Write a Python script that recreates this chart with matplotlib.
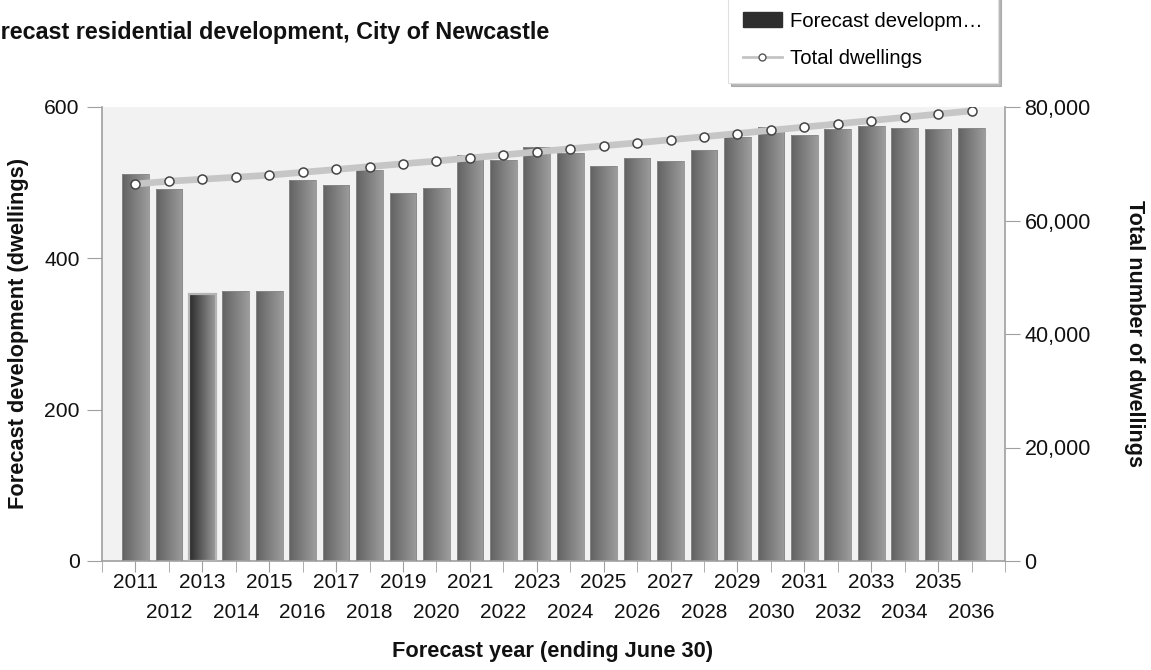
import matplotlib
matplotlib.use("Agg")
import matplotlib.pyplot as plt
import numpy as np
from matplotlib.patches import Patch
from matplotlib.lines import Line2D
from matplotlib.colors import LinearSegmentedColormap
from matplotlib.ticker import FuncFormatter

plt.rcParams['font.family'] = ['Liberation Sans', 'DejaVu Sans']

years = list(range(2011, 2037))
development = [512, 491, 353, 357, 357, 503, 497, 517, 486, 493, 537, 530, 547,
               539, 522, 532, 529, 543, 561, 573, 563, 571, 575, 572, 571, 572]
total_dwellings = [66430, 66920, 67270, 67630, 67990, 68490, 68990, 69500, 69990,
                   70480, 71020, 71550, 72100, 72640, 73160, 73690, 74220, 74760,
                   75320, 75900, 76460, 77030, 77610, 78180, 78750, 79320]
highlight_year = 2013

title = "Forecast residential development, City of Newcastle"
xlabel = "Forecast year (ending June 30)"
ylabel_left = "Forecast development (dwellings)"
ylabel_right = "Total number of dwellings"
legend_labels = ["Forecast developm\u2026", "Total dwellings"]

W, H = 1151, 670
fig = plt.figure(figsize=(W / 100, H / 100), dpi=100)
ax = fig.add_axes([102 / W, 1 - 561 / H, (1005 - 102) / W, (561 - 107) / H])
ax.set_facecolor('#f2f2f2')

x = np.arange(len(years))
bars = ax.bar(x, development, width=0.8, color='none', edgecolor='none', zorder=2)

grad = np.linspace(0, 1, 64).reshape(1, -1)
cmap_norm = LinearSegmentedColormap.from_list('g', ['#626262', '#9c9c9c'])
cmap_hi = LinearSegmentedColormap.from_list('h', ['#2a2a2a', '#9a9a9a'])
for yr, b in zip(years, bars):
    x0, w, h = b.get_x(), b.get_width(), b.get_height()
    hi = (yr == highlight_year)
    im = ax.imshow(grad, cmap=cmap_hi if hi else cmap_norm, aspect='auto',
                   extent=(x0, x0 + w, 0, h), zorder=2, interpolation='bilinear')
    im.set_clip_path(b)
    ec = '#b4b4b4' if hi else '#8a8a8a'
    lw = 1.6 if hi else 0.6
    ax.add_patch(plt.Rectangle((x0, 0), w, h, fill=False, edgecolor=ec, lw=lw, zorder=3))

ax.set_xlim(-1, len(years))
ax.set_ylim(0, 600)
ax.set_yticks([0, 200, 400, 600])

FS_TICK = 15
major = [i for i in x if i % 2 == 0]
minor = [-1] + [i for i in x if i % 2 == 1] + [len(years)]
ax.set_xticks(major)
ax.set_xticklabels([str(years[i]) for i in major])
ax.set_xticks(minor, minor=True)
ax.set_xticklabels([''] + [str(years[i]) for i in x if i % 2 == 1] + [''], minor=True)
ax.tick_params(axis='x', which='major', length=8, color='#a0a0a0', pad=1,
               labelsize=FS_TICK, labelcolor='#111111')
ax.tick_params(axis='x', which='minor', length=8, color='#a0a0a0', pad=22,
               labelsize=FS_TICK, labelcolor='#111111')
ax.tick_params(axis='y', length=11, color='#a0a0a0', labelsize=15.2, labelcolor='#111111', pad=5)

for s in ['top', 'right']:
    ax.spines[s].set_visible(False)
for s in ['left', 'bottom']:
    ax.spines[s].set_color('#a0a0a0')
    ax.spines[s].set_linewidth(1.2)

ax2 = ax.twinx()
ax2.set_ylim(0, 80000)
ax2.set_yticks([0, 20000, 40000, 60000, 80000])
ax2.yaxis.set_major_formatter(FuncFormatter(lambda v, p: f"{int(v):,}"))
ax2.tick_params(axis='y', length=11, color='#a0a0a0', labelsize=15.5, labelcolor='#111111', pad=3)
for s in ['top', 'left', 'bottom']:
    ax2.spines[s].set_visible(False)
ax2.spines['right'].set_color('#a0a0a0')
ax2.spines['right'].set_linewidth(1.2)

ax2.plot(x, total_dwellings, color='#c6c6c6', lw=4.8, zorder=4, solid_capstyle='butt')
ax2.plot(x, total_dwellings, ls='none', marker='o', ms=6.5, mfc='white',
         mec='#444444', mew=1.1, zorder=5)

fig.text(-28 / W, 1 - 32 / H, title, fontsize=16.8, fontweight='bold', ha='left',
         va='center', color='#111111')
fig.text(553 / W, 1 - 652 / H, xlabel, fontsize=15.7, fontweight='bold', ha='center',
         va='center', color='#111111')
fig.text(19 / W, 1 - 333 / H, ylabel_left, fontsize=15.7, fontweight='bold', ha='center',
         va='center', rotation=90, color='#111111')
fig.text(1135 / W, 1 - 334 / H, ylabel_right, fontsize=15.6, fontweight='bold', ha='center',
         va='center', rotation=-90, color='#111111')

handles = [Patch(facecolor='#2e2e2e', edgecolor='#2e2e2e'),
           Line2D([0], [0], color='#c4c4c4', lw=2, marker='o', ms=5, mfc='white',
                  mec='#555555', mew=1)]
leg = fig.legend(handles, legend_labels, loc='upper left',
                 bbox_to_anchor=(728 / W, 1 - 3 / H, 270 / W, 0.01), mode='expand',
                 frameon=True, fancybox=False,
                 shadow={'color': '#888888', 'alpha': 0.6}, fontsize=14.6, handlelength=1.9,
                 handleheight=0.75, borderpad=0.75, labelspacing=0.9, handletextpad=0.4,
                 borderaxespad=0)
leg.get_frame().set_edgecolor('#e0e0e0')
leg.get_frame().set_linewidth(0.8)
leg._legend_box.align = 'left'

fig.savefig('out.png', dpi=100)
